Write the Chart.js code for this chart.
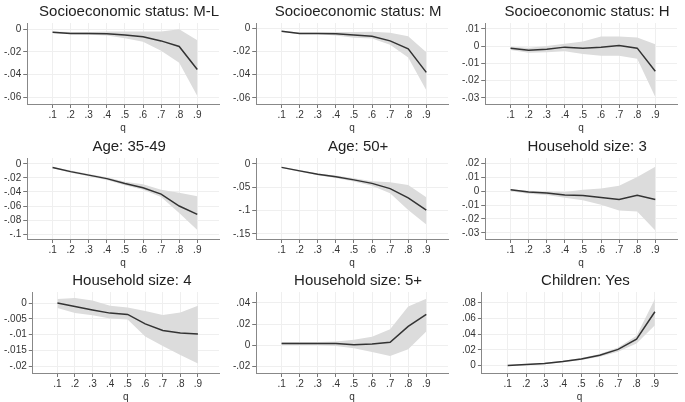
<!DOCTYPE html>
<html>
<head>
<meta charset="utf-8">
<script src="https://cdn.jsdelivr.net/npm/chart.js@4"></script>
<style>
  body { margin: 0; background: #fff; }
  #wrap { position: relative; width: 685px; height: 402px; }
  .panel { position: absolute; width: 228px; height: 134px; }
</style>
</head>
<body>
<div id="wrap"></div>
<script>
const qs = [0.1, 0.2, 0.3, 0.4, 0.5, 0.6, 0.7, 0.8, 0.9];

// Socioeconomic status: M-L
const estML = [-0.0027, -0.0037, -0.0037, -0.004, -0.0052, -0.0067, -0.0103, -0.0152, -0.0356];
const hiML  = [-0.002, -0.0025, -0.0025, -0.002, -0.002, -0.002, -0.002, 0, -0.0097];
const loML  = [-0.0033, -0.0045, -0.0048, -0.0055, -0.008, -0.011, -0.019, -0.0295, -0.059];
const ticksML = [0, -0.02, -0.04, -0.06];

// Socioeconomic status: M
const estM = [-0.0024, -0.0042, -0.0042, -0.0045, -0.0057, -0.0066, -0.0107, -0.0176, -0.038];
const hiM  = [-0.002, -0.0035, -0.0035, -0.003, -0.003, -0.0027, -0.0036, -0.0066, -0.0206];
const loM  = [-0.0028, -0.005, -0.005, -0.006, -0.008, -0.0087, -0.014, -0.025, -0.0534];
const ticksM = [0, -0.02, -0.04, -0.06];

// Socioeconomic status: H
const estH = [-0.0012, -0.0024, -0.0018, -0.0006, -0.0012, -0.0006, 0.0004, -0.0012, -0.0146];
const hiH  = [-0.0004, -0.001, 0, 0.0014, 0.0026, 0.0056, 0.0056, 0.005, 0.001];
const loH  = [-0.0022, -0.0038, -0.0036, -0.003, -0.0046, -0.0056, -0.0056, -0.0074, -0.0296];
const ticksH = [0.01, 0, -0.01, -0.02, -0.03];

// Age: 35-49
const estA35 = [-0.005, -0.011, -0.016, -0.021, -0.028, -0.034, -0.043, -0.06, -0.072];
const hiA35  = [-0.0042, -0.0095, -0.0145, -0.019, -0.0255, -0.029, -0.037, -0.041, -0.046];
const loA35  = [-0.0058, -0.0125, -0.0175, -0.023, -0.0305, -0.037, -0.047, -0.07, -0.094];
const ticksA35 = [0, -0.02, -0.04, -0.06, -0.08, -0.1];

// Age: 50+
const estA50 = [-0.0075, -0.015, -0.0224, -0.0276, -0.0343, -0.0418, -0.053, -0.073, -0.099];
const hiA50  = [-0.006, -0.013, -0.0205, -0.025, -0.031, -0.037, -0.0396, -0.045, -0.0716];
const loA50  = [-0.009, -0.017, -0.0243, -0.03, -0.0376, -0.047, -0.063, -0.099, -0.13];
const ticksA50 = [0, -0.05, -0.1, -0.15];

// Household size: 3
const estH3 = [0.001, -0.0005, -0.0012, -0.0027, -0.003, -0.0045, -0.006, -0.003, -0.006];
const hiH3  = [0.0015, 0.0003, -0.0002, -0.0005, 0.001, 0.002, 0.004, 0.0102, 0.0177];
const loH3  = [0, -0.0018, -0.0028, -0.0047, -0.0065, -0.0097, -0.014, -0.0147, -0.0284];
const ticksH3 = [0.02, 0.01, 0, -0.01, -0.02, -0.03];

// Household size: 4
const estH4 = [0, -0.0011, -0.0022, -0.0032, -0.0036, -0.0066, -0.0087, -0.0095, -0.0098];
const hiH4  = [0.0013, 0.0016, 0.0008, -0.0009, -0.0014, -0.0025, -0.0038, -0.003, -0.0009];
const loH4  = [-0.0016, -0.0032, -0.0039, -0.0049, -0.0052, -0.0106, -0.0136, -0.0165, -0.0192];
const ticksH4 = [0, -0.005, -0.01, -0.015, -0.02];

// Household size: 5+
const estH5 = [0.0016, 0.0016, 0.0016, 0.0016, 0.0003, 0.001, 0.0026, 0.0178, 0.0292];
const hiH5  = [0.003, 0.003, 0.003, 0.0033, 0.005, 0.008, 0.015, 0.0366, 0.044];
const loH5  = [0.0003, 0.0001, 0, -0.0008, -0.003, -0.0065, -0.0104, -0.004, 0.013];
const ticksH5 = [0.04, 0.02, 0, -0.02];

// Children: Yes
const estCh = [0, 0.0013, 0.0026, 0.005, 0.0083, 0.013, 0.0206, 0.0337, 0.0687];
const hiCh  = [0.0006, 0.002, 0.0035, 0.006, 0.0095, 0.0148, 0.023, 0.038, 0.085];
const loCh  = [-0.0006, 0.0006, 0.0017, 0.004, 0.0071, 0.0112, 0.0175, 0.028, 0.0515];
const ticksCh = [0.08, 0.06, 0.04, 0.02, 0];

const panels = [
  { title: 'Socioeconomic status: M-L', est: estML, hi: hiML, lo: loML, ticks: ticksML, min: -0.066, max: 0.0055 },
  { title: 'Socioeconomic status: M', est: estM, hi: hiM, lo: loM, ticks: ticksM, min: -0.0654, max: 0.0048 },
  { title: 'Socioeconomic status: H', est: estH, hi: hiH, lo: loH, ticks: ticksH, min: -0.0336, max: 0.0134 },
  { title: 'Age: 35-49', est: estA35, hi: hiA35, lo: loA35, ticks: ticksA35, min: -0.107, max: 0.0084 },
  { title: 'Age: 50+', est: estA50, hi: hiA50, lo: loA50, ticks: ticksA50, min: -0.161, max: 0.0126 },
  { title: 'Household size: 3', est: estH3, hi: hiH3, lo: loH3, ticks: ticksH3, min: -0.0345, max: 0.024 },
  { title: 'Household size: 4', est: estH4, hi: hiH4, lo: loH4, ticks: ticksH4, min: -0.0222, max: 0.0035 },
  { title: 'Household size: 5+', est: estH5, hi: hiH5, lo: loH5, ticks: ticksH5, min: -0.0265, max: 0.0504 },
  { title: 'Children: Yes', est: estCh, hi: hiCh, lo: loCh, ticks: ticksCh, min: -0.0096, max: 0.094 }
];

// Stata-style numbers: drop the leading zero
const fmt = (v) => {
  if (Math.abs(v) < 1e-12) return '0';
  return String(parseFloat(v.toFixed(4))).replace('0.', '.');
};

const pts = (arr) => arr.map((y, i) => ({ x: qs[i], y: y }));

const FONT = 'Liberation Sans, Arial, sans-serif';

// title centred over the plot region, like Stata's subgraph titles
const panelTitle = {
  id: 'panelTitle',
  afterDraw(chart, args, opts) {
    const { ctx, chartArea } = chart;
    ctx.save();
    ctx.font = '15px ' + FONT;
    ctx.fillStyle = '#222';
    ctx.textAlign = 'center';
    ctx.textBaseline = 'middle';
    ctx.fillText(opts.text, (chartArea.left + chartArea.right) / 2 + 6, 12);
    ctx.restore();
  }
};

const colX = [0, 229, 458];
const rowY = [0, 135, 269];
const wrap = document.getElementById('wrap');

panels.forEach((p, i) => {
  const div = document.createElement('div');
  div.className = 'panel';
  div.style.left = colX[i % 3] + 'px';
  div.style.top = rowY[Math.floor(i / 3)] + 'px';
  const canvas = document.createElement('canvas');
  canvas.width = 228;
  canvas.height = 134;
  div.appendChild(canvas);
  wrap.appendChild(div);

  new Chart(canvas, {
    type: 'line',
    data: {
      datasets: [
        { data: pts(p.hi), fill: '+1', backgroundColor: '#dcdcdc', borderWidth: 0, pointRadius: 0, tension: 0, order: 2 },
        { data: pts(p.lo), fill: false, borderWidth: 0, pointRadius: 0, tension: 0, order: 3 },
        { data: pts(p.est), fill: false, borderColor: '#333', borderWidth: 1.5, pointRadius: 0, tension: 0, order: 0 }
      ]
    },
    plugins: [panelTitle],
    options: {
      responsive: false,
      animation: false,
      layout: { padding: { left: 2, right: 9, top: 23, bottom: 0 } },
      plugins: {
        legend: { display: false },
        tooltip: { enabled: false },
        title: { display: false },
        panelTitle: { text: p.title }
      },
      scales: {
        x: {
          type: 'linear', min: -0.04, max: 1.02,
          afterBuildTicks: (s) => { s.ticks = qs.map(v => ({ value: v })); },
          ticks: { callback: fmt, autoSkip: false, maxRotation: 0, padding: 1, color: '#333', font: { family: FONT, size: 10 } },
          grid: { color: '#efefef', tickColor: '#777', tickLength: 4 },
          border: { color: '#888' },
          title: { display: true, text: 'q', color: '#333', padding: 0, font: { family: FONT, size: 10 } }
        },
        y: {
          min: p.min, max: p.max,
          afterBuildTicks: (s) => { s.ticks = p.ticks.map(v => ({ value: v })); },
          ticks: { callback: fmt, autoSkip: false, color: '#333', padding: 2, font: { family: FONT, size: 10 } },
          grid: { color: '#efefef', tickColor: '#777', tickLength: 4 },
          border: { color: '#888' }
        }
      }
    }
  });
});
</script>
</body>
</html>
